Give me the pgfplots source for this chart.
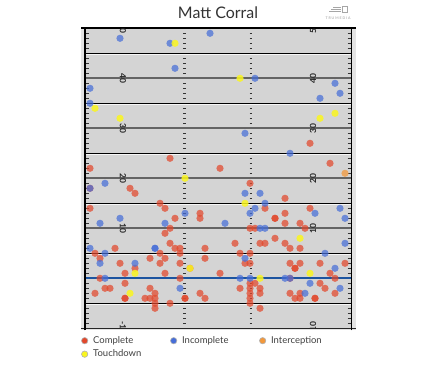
\documentclass[border=0pt]{standalone}
\usepackage{pgfplots}
\usepackage{pgfplotstable}
\pgfplotsset{compat=1.18}
\usepackage{fontspec}
\setmainfont{Lato}
\definecolor{cComp}{RGB}{226,72,44}
\definecolor{cInc}{RGB}{70,110,216}
\definecolor{cInt}{RGB}{242,152,60}
\definecolor{cTD}{RGB}{250,246,30}
\definecolor{fieldgray}{RGB}{212,212,212}
\definecolor{outergray}{RGB}{228,228,228}
\definecolor{yardgray}{RGB}{100,100,100}
\definecolor{losblue}{RGB}{28,84,160}

\pgfplotstableread{
x y
17 24
1 22
27 22
45 27
49 23
1 18
9 18
10 17
15 15
16 14
1 14
23 13
23 12
18 12
17 10
16 9
33 19
40 16
36 14
45 14
40 13
38 12
38 12
40 11
43 11
44 10
33 10
34 10
30 7
35 7
36 7
40 7
41 6
43 6
38 8
31 5
33 5
32 3
33 3
41 3
43 3
42 2
42 2
47 3
52 3
49 1
27 1
50 0
41 0
47 -1
48 -2
31 -2
34 -1
35 -2
35 -3
33 -1
33 -2
33 -3
33 -4
33 -5
41 -3
43 -3
42 -4
43 -4
46 -4
46 -4
50 -3
35 -6
17 7
6 6
2 5
3 4
7 3
10 2
13 4
15 5
16 4
15 3
8 1
16 1
3 0
8 -1
2 -3
4 -2
5 -2
8 -4
8 -4
13 -2
12 -4
13 -4
14 -4
14 -3
14 -5
14 -6
17 -5
18 6
19 6
24 6
19 5
24 4
19 3
19 0
20 -4
20 -4
23 -3
24 -4
21 2
}\complete

\pgfplotstableread{
x y
7 48
17 47
25 49
18 42
1 38
1 35
34 40
50 39
51 37
47 36
32 29
41 25
4 19
1 18
7 12
3 11
16 11
20 13
32 17
35 17
36 15
34 14
33 13
46 13
51 14
52 12
28 11
35 10
36 10
52 7
48 5
32 4
50 2
31 0
33 0
40 0
41 0
45 -1
51 -2
44 -3
1 6
4 5
14 6
14 6
3 3
10 3
4 0
19 -2
}\incomplete

\pgfplotstableread{
x y
52 21
}\intercept

\pgfplotstableread{
x y
18 47
31 40
2 34
7 32
50 33
47 32
20 20
32 15
43 8
10 1
21 2
9 -3
45 1
35 0
}\touchdown

\begin{document}
\begin{tikzpicture}
\useasboundingbox (0bp,0bp) rectangle (435bp,377bp);
\node[font=\fontsize{16}{18}\selectfont, text=black!80] at (218bp,364bp) {Matt Corral};
% logo
\begin{scope}[gray!70, line width=0.6bp]
\draw (333bp,370bp) -- (341bp,370bp);
\draw (331bp,368bp) -- (341bp,368bp);
\draw (329bp,366bp) -- (341bp,366bp);
\draw (342bp,365bp) rectangle (347bp,371bp);
\end{scope}
\node[font=\fontsize{3.6}{4}\selectfont, text=gray!80] at (338bp,359bp) {T R U M E D I A};

\begin{axis}[
  at={(81bp,46.7bp)}, anchor=south west,
  scale only axis, width=274.5bp, height=303.5bp,
  xmin=-0.8, xmax=54.1, ymin=-10.4, ymax=50.3,
  hide axis, clip=false,
  legend columns=3,
  legend style={at={(0,0)}, anchor=north west, xshift=-3bp, yshift=-2bp,
    draw=none, fill=none, font=\fontsize{9.5}{11}\selectfont, text=black!75,
    row sep=1bp},
]
% field backgrounds
\fill[outergray] (axis cs:-0.8,-10.4) rectangle (axis cs:54.1,50);
\fill[fieldgray] (axis cs:0,-10) rectangle (axis cs:53.33,50);
% dashes
\pgfplotsinvokeforeach{-9,...,49}{
  \draw[black!80, line width=0.8bp] (axis cs:0.2,#1) -- (axis cs:0.8,#1);
  \draw[black!80, line width=0.8bp] (axis cs:52.5,#1) -- (axis cs:53.1,#1);
  \draw[black!80, line width=0.8bp] (axis cs:19.6,#1) -- (axis cs:20.1,#1);
  \draw[black!80, line width=0.8bp] (axis cs:32.9,#1) -- (axis cs:33.4,#1);
}
% yard lines
\pgfplotsinvokeforeach{-5,5,15,25,35,45}{
  \draw[white, opacity=0.8, line width=0.7bp] (axis cs:0,#1-0.3) -- (axis cs:53.33,#1-0.3);
  \draw[black, line width=1.3bp] (axis cs:0,#1) -- (axis cs:53.33,#1);
}
\pgfplotsinvokeforeach{10,20,30,40}{
  \draw[yardgray, line width=2bp] (axis cs:0,#1) -- (axis cs:53.33,#1);
}
\draw[losblue, line width=2bp] (axis cs:0,0) -- (axis cs:53.33,0);
\draw[black, line width=2bp] (axis cs:-0.8,50) -- (axis cs:54.1,50);
\draw[black!85, line width=1.5bp] (axis cs:-0.8,-10) -- (axis cs:54.1,-10);
\draw[black, line width=1.6bp] (axis cs:0,-10.4) -- (axis cs:0,50);
\draw[black, line width=1.6bp] (axis cs:53.33,-10.4) -- (axis cs:53.33,50);
% numbers
\begin{scope}
\clip (axis cs:0,-10) rectangle (axis cs:53.33,50);
\pgfplotsinvokeforeach{50,40,30,20,10,-10}{
  \node[rotate=-90, font=\bfseries\fontsize{8.5}{8.5}\selectfont, text=black!85, inner sep=0pt] at (axis cs:7.6,#1) {#1};
  \node[rotate=90, font=\bfseries\fontsize{8.5}{8.5}\selectfont, text=black!85, inner sep=0pt] at (axis cs:45.6,#1) {#1};
}
\end{scope}

\addplot[only marks, mark=*, mark size=3.6bp,
  mark options={fill=cComp, fill opacity=0.72, draw opacity=0, line width=0pt},
  legend image code/.code={\filldraw[fill=cComp, draw=gray!60, line width=0.6bp] (0bp,0bp) circle (3.2bp);}]
  table[x=x, y=y] {\complete};
\addlegendentry{\hspace{3bp}\makebox[75bp][l]{Complete}}
\addplot[only marks, mark=*, mark size=3.6bp,
  mark options={fill=cInc, fill opacity=0.72, draw opacity=0, line width=0pt},
  legend image code/.code={\filldraw[fill=cInc, draw=gray!60, line width=0.6bp] (0bp,0bp) circle (3.2bp);}]
  table[x=x, y=y] {\incomplete};
\addlegendentry{\hspace{3bp}\makebox[75bp][l]{Incomplete}}
\addplot[only marks, mark=*, mark size=3.6bp,
  mark options={fill=cInt, fill opacity=0.75, draw opacity=0, line width=0pt},
  legend image code/.code={\filldraw[fill=cInt, draw=gray!60, line width=0.6bp] (0bp,0bp) circle (3.2bp);}]
  table[x=x, y=y] {\intercept};
\addlegendentry{\hspace{3bp}\makebox[75bp][l]{Interception}}
\addplot[only marks, mark=*, mark size=3.6bp,
  mark options={fill=cTD, fill opacity=0.85, draw opacity=0, line width=0pt},
  legend image code/.code={\filldraw[fill=cTD, draw=gray!60, line width=0.6bp] (0bp,0bp) circle (3.2bp);}]
  table[x=x, y=y] {\touchdown};
\addlegendentry{\hspace{3bp}\makebox[75bp][l]{Touchdown}}
\end{axis}
\end{tikzpicture}
\end{document}
